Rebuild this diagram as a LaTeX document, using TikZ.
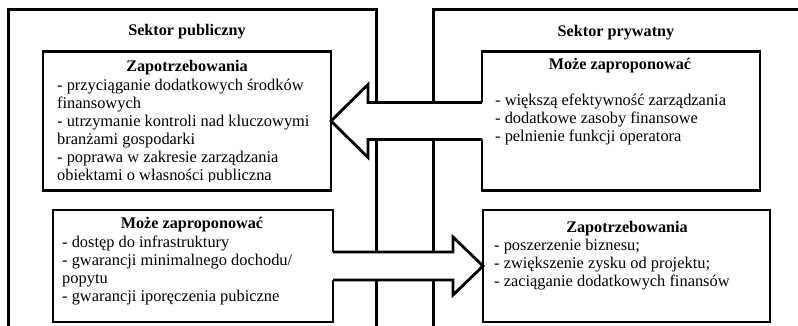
\documentclass[tikz,border=0pt]{standalone}
\usepackage{fontspec}
\setmainfont{Liberation Serif}
\usetikzlibrary{calc}
\begin{document}
\begin{tikzpicture}[x=1pt,y=-1pt,
  frame/.style={draw=black, line width=3pt, outer sep=0pt, inner sep=0pt},
  box/.style={draw=black, line width=2.8pt, fill=white, outer sep=0pt, inner sep=0pt},
  head/.style={font=\fontsize{16.2}{18}\selectfont\bfseries, anchor=base, inner sep=0pt},
  list/.style={font=\fontsize{16.4}{18}\selectfont, anchor=base west, inner sep=0pt},
  blockarrow/.style={draw=black, line width=2.8pt, line join=miter}]
\path[use as bounding box] (0,0) rectangle (798,326);
\clip (0,0) rectangle (798,326);
% outer sectors
\node[frame, minimum width=368, minimum height=340] (pub) at (192,180) {};
\node[frame, minimum width=407, minimum height=340] (pry) at (636.5,180) {};
\node[head] (pubt) at (187,36) {Sektor publiczny};
\node[head] (pryt) at (616,37) {Sektor prywatny};
% inner boxes
\node[box, minimum width=288, minimum height=139] (tl) at (187,121) {};
\node[box, minimum width=278, minimum height=139] (tr) at (621,121) {};
\node[box, minimum width=280, minimum height=112] (bl) at (193,266) {};
\node[box, minimum width=287, minimum height=112] (br) at (626.5,266) {};
% left arrow (private -> public)
\fill[white] ($(tr.west)+(2,-18.5)$) -- ($(tl.east)+(37,-18.5)$) -- ($(tl.east)+(37,-36.5)$) -- (tl.east)
  -- ($(tl.east)+(37,36.5)$) -- ($(tl.east)+(37,18.5)$) -- ($(tr.west)+(2,18.5)$) -- cycle;
\draw[blockarrow] ($(tr.west)+(0,-18.5)$) -- ($(tl.east)+(37,-18.5)$) -- ($(tl.east)+(37,-36.5)$) -- (tl.east)
  -- ($(tl.east)+(37,36.5)$) -- ($(tl.east)+(37,18.5)$) -- ($(tr.west)+(0,18.5)$);
% right arrow (public -> private)
\fill[white] ($(bl.east)+(-2,-14)$) -- ($(br.west)+(-30,-14)$) -- ($(br.west)+(-30,-29)$) -- (br.west)
  -- ($(br.west)+(-30,29)$) -- ($(br.west)+(-30,14)$) -- ($(bl.east)+(-2,14)$) -- cycle;
\draw[blockarrow] ($(bl.east)+(0,-14)$) -- ($(br.west)+(-30,-14)$) -- ($(br.west)+(-30,-29)$) -- (br.west)
  -- ($(br.west)+(-30,29)$) -- ($(br.west)+(-30,14)$) -- ($(bl.east)+(0,14)$);
% texts top-left
\node[head] (tlh) at (187,72) {Zapotrzebowania};
\begin{scope}
\clip (45,53) rectangle (329,181);
\node[list] (tll) at (57,90.5) {\begin{tabular}[t]{@{}l@{}}- przyciąganie dodatkowych środków\\ finansowych\\ - utrzymanie kontroli nad kluczowymi\\ branżami gospodarki\\ - poprawa w zakresie zarządzania\\ obiektami o własności publiczna\end{tabular}};
\end{scope}
% texts top-right
\node[head] (trh) at (620,70) {Może zaproponować};
\node[list] (trl) at (495,106) {\begin{tabular}[t]{@{}l@{}}- większą efektywność zarządzania\\ - dodatkowe zasoby finansowe\\ - pelnienie funkcji operatora\end{tabular}};
% texts bottom-left
\node[head] (blh) at (192,228) {Może zaproponować};
\node[list] (bll) at (62,247) {\begin{tabular}[t]{@{}l@{}}- dostęp do infrastruktury\\ - gwarancji minimalnego dochodu/\\ popytu\\ - gwarancji iporęczenia pubiczne\end{tabular}};
% texts bottom-right
\node[head] (brh) at (627,232) {Zapotrzebowania};
\node[list] (brl) at (494,250) {\begin{tabular}[t]{@{}l@{}}- poszerzenie biznesu;\\ - zwiększenie zysku od projektu;\\ - zaciąganie dodatkowych finansów\end{tabular}};
\end{tikzpicture}
\end{document}
